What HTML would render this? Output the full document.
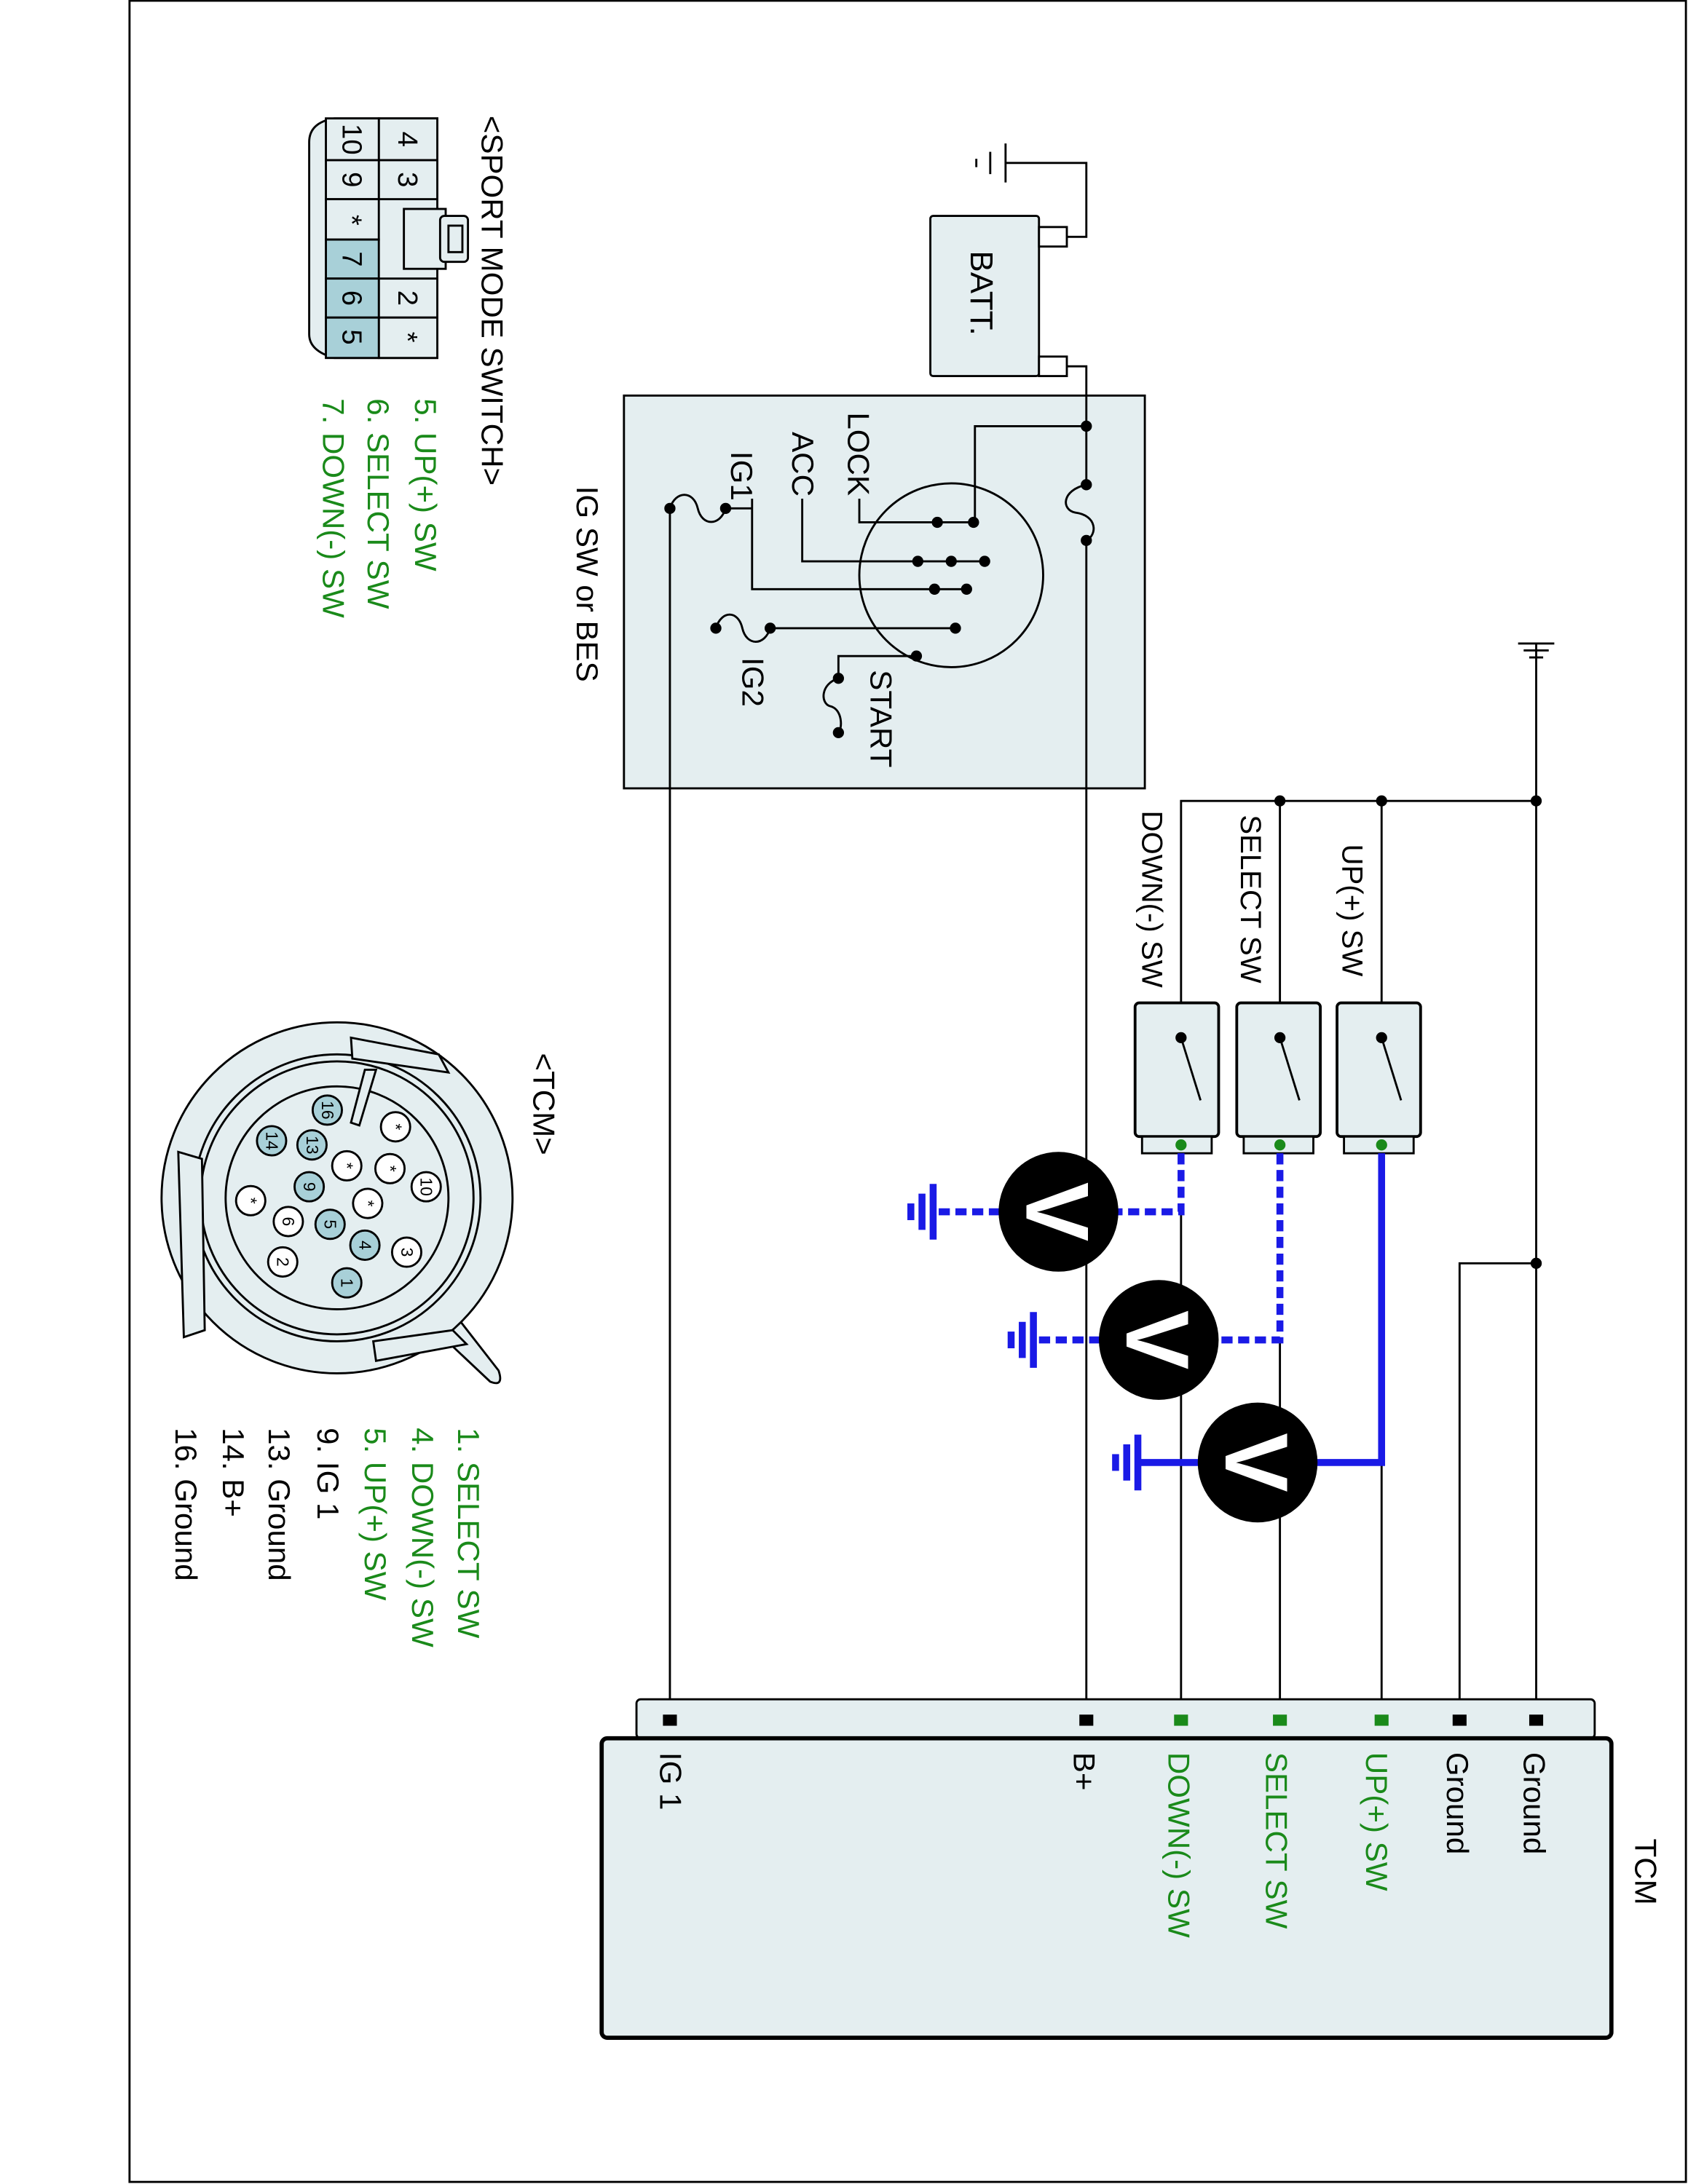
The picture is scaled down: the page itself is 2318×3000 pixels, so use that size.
<!DOCTYPE html>
<html><head><meta charset="utf-8"><style>html,body{margin:0;padding:0;background:#fff}svg{display:block}</style></head>
<body>
<svg width="2318" height="3000" viewBox="0 0 1212 1568" preserveAspectRatio="none" xmlns="http://www.w3.org/2000/svg" font-family="Liberation Sans, Arial, sans-serif">
<rect x="0" y="0" width="1212" height="1568" fill="#fff"/>
<rect x="93" y="0.5" width="1117.5" height="1566" fill="none" stroke="#000" stroke-width="1.5"/>

<g fill="none" stroke="#000" stroke-width="1.5">
<line x1="722" y1="103" x2="722" y2="131"/><line x1="711" y1="109" x2="711" y2="125"/><line x1="701" y1="114" x2="701" y2="120"/>
<polyline points="722,117 780,117 780,170 766,170"/>
<rect x="668" y="155" width="78" height="115" rx="2" fill="#e4eef0"/>
<rect x="746" y="163" width="20" height="14" fill="#fff"/>
<rect x="746" y="256" width="20" height="14" fill="#fff"/>
<polyline points="766,263 780,263 780,348"/>
<path d="M780,348 C762,352 762,366 772,368 C788,370 788,384 780,388"/>
<line x1="780" y1="388" x2="780" y2="1235"/>
<rect x="448" y="284" width="374" height="282" fill="#e4eef0"/>
<path d="M780,348 C762,352 762,366 772,368 C788,370 788,384 780,388"/>
<line x1="780" y1="284" x2="780" y2="348"/><line x1="780" y1="388" x2="780" y2="566"/>
<polyline points="780,306 700,306 700,375 617,375 617,358"/>
<circle cx="683" cy="413" r="66"/>
<polyline points="576,358 576,403 707,403"/>
<polyline points="540,358 540,423 694,423"/>
<line x1="521" y1="365" x2="540" y2="365"/>
<path d="M481,365 C485,352 498,352 501,365 C504,378 517,378 521,365"/>
<line x1="481" y1="365" x2="481" y2="1235"/>
<line x1="553" y1="451" x2="686" y2="451"/>
<path d="M514,451 C518,438 530,438 533,451 C536,464 549,464 553,451"/>
<polyline points="658,471 602,471 602,487"/>
<path d="M602,487 C589,491 589,505 596,507 C605,509 605,523 602,526"/>
<line x1="1090" y1="462" x2="1116" y2="462"/><line x1="1094" y1="467" x2="1112" y2="467"/><line x1="1098" y1="472" x2="1108" y2="472"/>
<line x1="1103" y1="462" x2="1103" y2="1235"/>
<polyline points="848,720 848,575 1103,575"/>
<line x1="919" y1="575" x2="919" y2="720"/>
<line x1="992" y1="575" x2="992" y2="720"/>
<polyline points="1103,907 1048,907 1048,1235"/>
<rect x="815" y="720" width="60" height="96" rx="3" fill="#e4eef0" stroke-width="2"/>
<rect x="820" y="816" width="50" height="12" fill="#e4eef0"/>
<rect x="888" y="720" width="60" height="96" rx="3" fill="#e4eef0" stroke-width="2"/>
<rect x="893" y="816" width="50" height="12" fill="#e4eef0"/>
<rect x="960" y="720" width="60" height="96" rx="3" fill="#e4eef0" stroke-width="2"/>
<rect x="965" y="816" width="50" height="12" fill="#e4eef0"/>
<line x1="848" y1="745" x2="862" y2="790"/><line x1="919" y1="745" x2="933" y2="790"/><line x1="992" y1="745" x2="1006" y2="790"/>
<line x1="848" y1="870" x2="848" y2="1235"/>
<line x1="919" y1="962" x2="919" y2="1235"/>
<line x1="992" y1="1050" x2="992" y2="1235"/>
<rect x="457" y="1220" width="688" height="28" rx="3" fill="#e4eef0"/>
<rect x="432" y="1248" width="725" height="215" rx="4" fill="#e4eef0" stroke-width="3"/>
</g>
<g fill="#000">
<circle cx="780" cy="306" r="4"/><circle cx="780" cy="348" r="4"/><circle cx="780" cy="388" r="4"/>
<circle cx="699" cy="375" r="4"/><circle cx="673" cy="375" r="4"/>
<circle cx="659" cy="403" r="4"/><circle cx="683" cy="403" r="4"/><circle cx="707" cy="403" r="4"/>
<circle cx="671" cy="423" r="4"/><circle cx="694" cy="423" r="4"/>
<circle cx="521" cy="365" r="4"/><circle cx="481" cy="365" r="4"/>
<circle cx="686" cy="451" r="4"/><circle cx="553" cy="451" r="4"/><circle cx="514" cy="451" r="4"/>
<circle cx="658" cy="471" r="4"/><circle cx="602" cy="487" r="4"/><circle cx="602" cy="526" r="4"/>
<circle cx="919" cy="575" r="4"/><circle cx="992" cy="575" r="4"/><circle cx="1103" cy="575" r="4"/><circle cx="1103" cy="907" r="4"/>
<circle cx="848" cy="745" r="4"/><circle cx="919" cy="745" r="4"/><circle cx="992" cy="745" r="4"/>
<rect x="476" y="1231" width="10" height="8"/><rect x="775" y="1231" width="10" height="8"/>
<rect x="1043" y="1231" width="10" height="8"/><rect x="1098" y="1231" width="10" height="8"/>
</g>
<g fill="#1a8a1a">
<circle cx="848" cy="822" r="4"/><circle cx="919" cy="822" r="4"/><circle cx="992" cy="822" r="4"/>
<rect x="843" y="1231" width="10" height="8"/><rect x="914" y="1231" width="10" height="8"/><rect x="987" y="1231" width="10" height="8"/>
</g>
<g fill="none" stroke="#1a1ae6" stroke-width="5">
<polyline points="848,828 848,870 760,870" stroke-dasharray="8,4"/>
<line x1="718" y1="870" x2="670" y2="870" stroke-dasharray="8,4"/>
<polyline points="919,828 919,962 832,962" stroke-dasharray="8,4"/>
<line x1="790" y1="962" x2="742" y2="962" stroke-dasharray="8,4"/>
<polyline points="992,828 992,1050 903,1050"/>
<line x1="861" y1="1050" x2="817" y2="1050"/>
<line x1="670" y1="850" x2="670" y2="890"/><line x1="662" y1="857" x2="662" y2="883"/><line x1="654" y1="864" x2="654" y2="876"/>
<line x1="742" y1="942" x2="742" y2="982"/><line x1="734" y1="949" x2="734" y2="975"/><line x1="726" y1="956" x2="726" y2="968"/>
<line x1="817" y1="1030" x2="817" y2="1070"/><line x1="809" y1="1037" x2="809" y2="1063"/><line x1="801" y1="1044" x2="801" y2="1056"/>
</g>
<g>
<circle cx="760" cy="870" r="43" fill="#000"/>
<circle cx="832" cy="962" r="43" fill="#000"/>
<circle cx="903" cy="1050" r="43" fill="#000"/>
<g fill="#fff" font-weight="bold" font-size="64" text-anchor="middle">
<text transform="translate(737,870) rotate(90)">V</text>
<text transform="translate(809,962) rotate(90)">V</text>
<text transform="translate(880,1050) rotate(90)">V</text>
</g>
</g>

<g stroke="#000" stroke-width="1.5" fill="#e4eef0">
<path d="M240,85 L314,85 L314,257 L240,257 Q222,252 222,240 L222,102 Q222,88 240,85 Z"/>
<rect x="290" y="150" width="30" height="43"/>
<rect x="316" y="155" width="20" height="33" rx="3"/>
<rect x="322" y="162" width="10" height="19"/>
<rect x="272" y="85" width="42" height="30"/><rect x="272" y="115" width="42" height="28"/>
<rect x="272" y="200" width="42" height="28"/><rect x="272" y="228" width="42" height="29"/>
<rect x="234" y="85" width="38" height="30"/><rect x="234" y="115" width="38" height="28"/><rect x="234" y="143" width="38" height="29"/>
<rect x="234" y="172" width="38" height="28" fill="#a8d0d8"/><rect x="234" y="200" width="38" height="28" fill="#a8d0d8"/><rect x="234" y="228" width="38" height="29" fill="#a8d0d8"/>
</g>
<g font-size="20" text-anchor="middle">
<text transform="translate(286,100) rotate(90)">4</text>
<text transform="translate(286,129) rotate(90)">3</text>
<text transform="translate(286,214) rotate(90)">2</text>
<text transform="translate(286,242) rotate(90)">*</text>
<text transform="translate(246,100) rotate(90)">10</text>
<text transform="translate(246,129) rotate(90)">9</text>
<text transform="translate(246,158) rotate(90)">*</text>
<text transform="translate(246,186) rotate(90)">7</text>
<text transform="translate(246,214) rotate(90)">6</text>
<text transform="translate(246,242) rotate(90)">5</text>
</g>

<g stroke="#000" stroke-width="1.5" fill="#e4eef0">
<path d="M318,960 L352,992 Q362,996 358,984 L330,948 Z"/>
<circle cx="242" cy="860" r="126"/>
<circle cx="242" cy="860" r="103"/>
<circle cx="242" cy="860" r="98"/>
<circle cx="242" cy="860" r="80"/>
<path d="M252,745 L253,760 L322,770 L315,757 Z"/>
<path d="M128,827 L132,960 L147,955 L145,832 Z"/>
<path d="M268,963 L270,977 L335,965 L325,955 Z"/>
<path d="M262,768 L270,768 L258,808 L252,806 Z"/>
</g>
<g stroke="#000" stroke-width="1.5">
<g fill="#a8d0d8">
<circle cx="235" cy="797" r="10.5"/><circle cx="195" cy="819" r="10.5"/><circle cx="224" cy="822" r="10.5"/>
<circle cx="222" cy="852" r="10.5"/><circle cx="237" cy="879" r="10.5"/><circle cx="262" cy="894" r="10.5"/><circle cx="249" cy="921" r="10.5"/>
</g>
<g fill="#fff">
<circle cx="249" cy="837" r="10.5"/><circle cx="280" cy="839" r="10.5"/><circle cx="284" cy="809" r="10.5"/>
<circle cx="306" cy="852" r="10.5"/><circle cx="180" cy="862" r="10.5"/><circle cx="264" cy="864" r="10.5"/>
<circle cx="207" cy="877" r="10.5"/><circle cx="292" cy="899" r="10.5"/><circle cx="203" cy="906" r="10.5"/>
</g>
</g>
<g font-size="12" text-anchor="middle">
<text transform="translate(231,797) rotate(90)">16</text><text transform="translate(191,819) rotate(90)">14</text><text transform="translate(220,822) rotate(90)">13</text>
<text transform="translate(218,852) rotate(90)">9</text><text transform="translate(233,879) rotate(90)">5</text><text transform="translate(258,894) rotate(90)">4</text><text transform="translate(245,921) rotate(90)">1</text>
<text transform="translate(245,837) rotate(90)">*</text><text transform="translate(276,839) rotate(90)">*</text><text transform="translate(280,809) rotate(90)">*</text>
<text transform="translate(302,852) rotate(90)">10</text><text transform="translate(176,862) rotate(90)">*</text><text transform="translate(260,864) rotate(90)">*</text>
<text transform="translate(203,877) rotate(90)">6</text><text transform="translate(288,899) rotate(90)">3</text><text transform="translate(199,906) rotate(90)">2</text>
</g>

<g font-size="22" fill="#000">
<text transform="translate(346,83) rotate(90)">&lt;SPORT MODE SWITCH&gt;</text>
<text transform="translate(383,756) rotate(90)">&lt;TCM&gt;</text>
<text transform="translate(414,349) rotate(90)">IG SW or BES</text>
<text transform="translate(609,296) rotate(90)">LOCK</text>
<text transform="translate(569,310) rotate(90)">ACC</text>
<text transform="translate(525,324) rotate(90)">IG1</text>
<text transform="translate(533,472) rotate(90)">IG2</text>
<text transform="translate(625,481) rotate(90)">START</text>
<text transform="translate(697,180) rotate(90)" font-size="23">BATT.</text>
<text transform="translate(820,582) rotate(90)" font-size="21">DOWN(-) SW</text>
<text transform="translate(891,585) rotate(90)" font-size="21">SELECT SW</text>
<text transform="translate(964,606) rotate(90)" font-size="21">UP(+) SW</text>
<text transform="translate(474,1258) rotate(90)">IG 1</text>
<text transform="translate(771,1258) rotate(90)">B+</text>
<text transform="translate(1039,1258) rotate(90)">Ground</text>
<text transform="translate(1094,1258) rotate(90)">Ground</text>
<text transform="translate(1174,1320) rotate(90)">TCM</text>
<text transform="translate(228,1025) rotate(90)">9. IG 1</text>
<text transform="translate(193,1025) rotate(90)">13. Ground</text>
<text transform="translate(160,1025) rotate(90)">14. B+</text>
<text transform="translate(126,1025) rotate(90)">16. Ground</text>
</g>
<g font-size="22" fill="#1a8a1a">
<text transform="translate(298,286) rotate(90)">5. UP(+) SW</text>
<text transform="translate(264,286) rotate(90)">6. SELECT SW</text>
<text transform="translate(232,286) rotate(90)">7. DOWN(-) SW</text>
<text transform="translate(839,1258) rotate(90)">DOWN(-) SW</text>
<text transform="translate(909,1258) rotate(90)">SELECT SW</text>
<text transform="translate(981,1258) rotate(90)">UP(+) SW</text>
<text transform="translate(329,1025) rotate(90)">1. SELECT SW</text>
<text transform="translate(296,1025) rotate(90)">4. DOWN(-) SW</text>
<text transform="translate(262,1025) rotate(90)">5. UP(+) SW</text>
</g>
</svg>
</body></html>
